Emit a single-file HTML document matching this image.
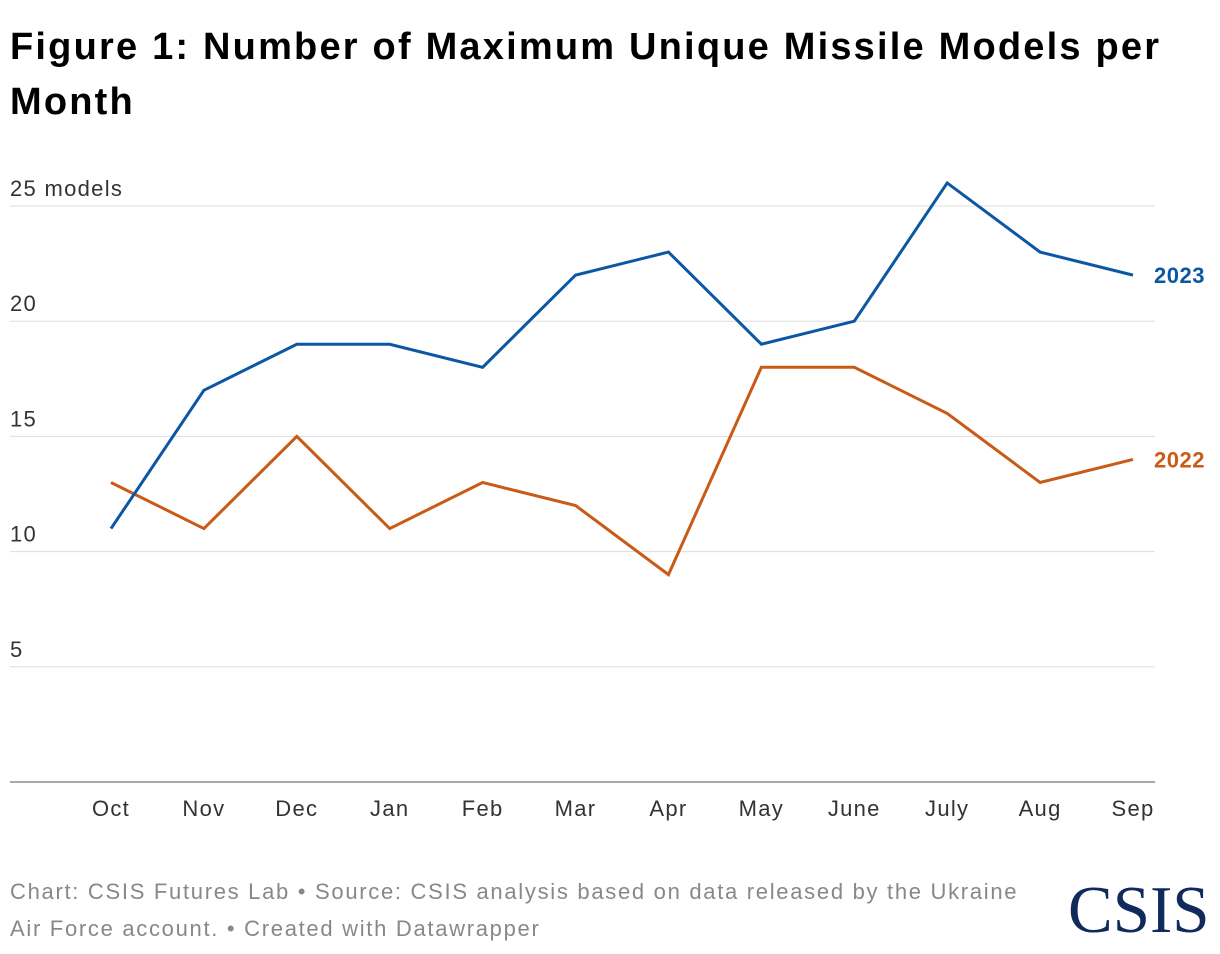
<!DOCTYPE html>
<html><head><meta charset="utf-8"><style>
body{margin:0;background:#fff;width:1220px;height:954px;overflow:hidden;font-family:"Liberation Sans",sans-serif}
.title{position:absolute;left:10px;top:20px;font-size:38px;font-weight:bold;line-height:55px;color:#000;width:1210px;letter-spacing:2.2px;white-space:nowrap}
.foot{position:absolute;left:10px;top:873px;font-size:22px;line-height:37px;color:#888;letter-spacing:1.7px;white-space:nowrap}
.logo{position:absolute;left:1068px;top:872px;font-family:"Liberation Serif",serif;font-size:67px;color:#112a5c}
</style></head><body>
<div class="title">Figure 1: Number of Maximum Unique Missile Models per<br>Month</div>
<svg id="c" width="1220" height="954" style="position:absolute;left:0;top:0"></svg>
<div class="foot">Chart: CSIS Futures Lab • Source: CSIS analysis based on data released by the Ukraine<br>Air Force account. • Created with Datawrapper</div>
<div class="logo">CSIS</div>
<script>
const months=["Oct","Nov","Dec","Jan","Feb","Mar","Apr","May","June","July","Aug","Sep"];
const s2023=[11,17,19,19,18,22,23,19,20,26,23,22];
const s2022=[13,11,15,11,13,12,9,18,18,16,13,14];
const yTicks=[0,5,10,15,20,25];
const yLabels=["","5","10","15","20","25 models"];
const ns="http://www.w3.org/2000/svg";
const svg=document.getElementById('c');
const x=i=>111+i*(1133-111)/11;
const y=v=>782-v*(782-206)/25;
function mk(t,a){const e=document.createElementNS(ns,t);for(const k in a)e.setAttribute(k,a[k]);svg.appendChild(e);return e;}
yTicks.forEach((t,i)=>{
 const l=mk('line',{x1:10,x2:1155,y1:y(t),y2:y(t),stroke:t===0?'#555':'#ddd','stroke-width':1});
 
 
 if(yLabels[i]){const tx=mk('text',{x:10,y:y(t)-10,'font-size':22,fill:'#333','letter-spacing':'1.3','font-family':'Liberation Sans, sans-serif'});tx.textContent=yLabels[i];
 
 }
});
months.forEach((m,i)=>{const tx=mk('text',{x:x(i),y:816,'font-size':22,fill:'#333','text-anchor':'middle','letter-spacing':'1.3','font-family':'Liberation Sans, sans-serif'});tx.textContent=m;
 
 });
function series(d,c,name,lab){
 const p=mk('polyline',{points:d.map((v,i)=>x(i)+','+y(v)).join(' '),fill:'none',stroke:c,'stroke-width':3,'stroke-linejoin':'miter'});
 
 
 const t=mk('text',{x:1154,y:y(d[d.length-1])+8,'font-size':22,'font-weight':'bold',fill:c,'letter-spacing':'0.5','font-family':'Liberation Sans, sans-serif'});t.textContent=lab;
 
 
}
series(s2022,'#c95a17','2022','2022');
series(s2023,'#0c57a4','2023','2023');
</script>
</body></html>
